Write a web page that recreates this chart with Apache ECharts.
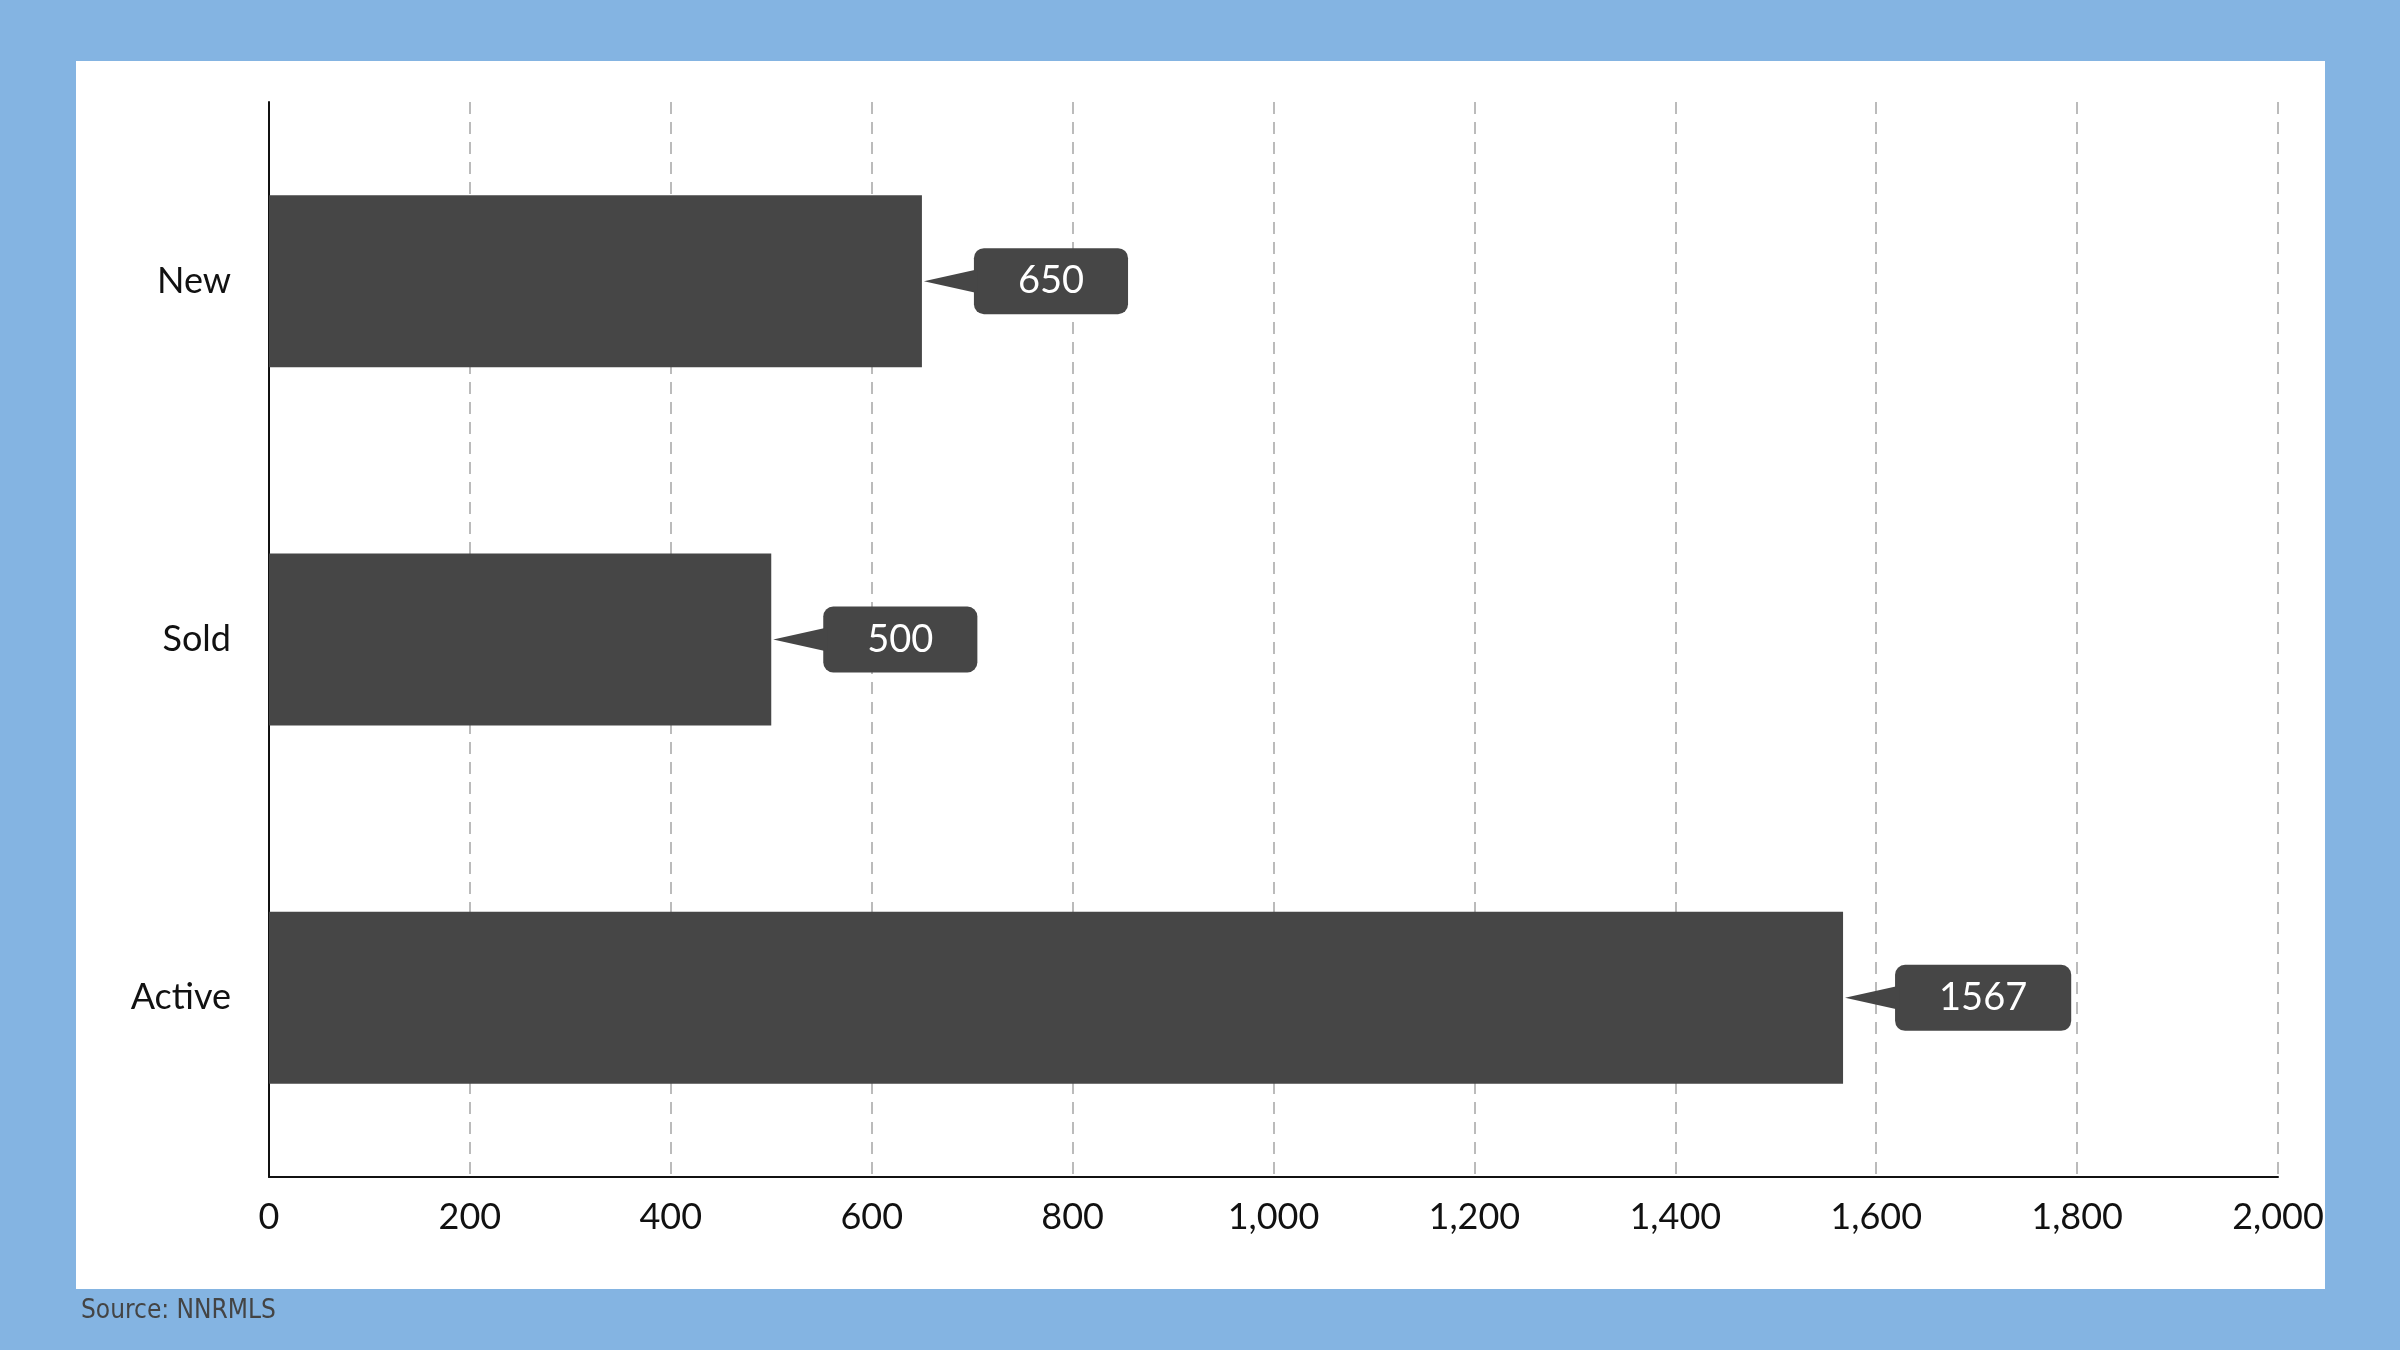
<!DOCTYPE html><html><head><meta charset="utf-8">
<script src="https://cdn.jsdelivr.net/npm/echarts@6/dist/echarts.min.js"></script>
<style>html,body{margin:0;padding:0;background:#84b4e2}#c{width:2400px;height:1350px}</style>
</head><body><div id="c"></div><script>
const categories = ['New','Sold','Active'];
const values = [650, 500, 1567];
const xTicks = [0,200,400,600,800,1000,1200,1400,1600,1800,2000];
const source = 'Source: NNRMLS';
const chart = echarts.init(document.getElementById('c'));
const BOX_GAP = 52;
chart.setOption({
  backgroundColor: '#84b4e2',
  graphic: [
    {type:'rect', z:-10, shape:{x:76,y:61,width:2249,height:1228}, style:{fill:'#fff'}},
    {type:'text', left:81, top:1298, style:{text:source, fill:'#444', font:'26px "Liberation Sans Narrow", "DejaVu Sans Condensed", sans-serif'}}
  ],
  grid: {left:269, right:122, top:102, bottom:173},
  xAxis: {type:'value', min:0, max:2000, interval:200,
    axisLine:{show:true, lineStyle:{color:'#111', width:2}}, axisTick:{show:false},
    axisLabel:{color:'#111', fontSize:36, fontFamily:'Lato', margin:22},
    splitLine:{show:true, lineStyle:{color:'#bbb', width:2, type:[12,8]}}},
  yAxis: {type:'category', data:categories, inverse:true,
    axisLine:{show:true, lineStyle:{color:'#111', width:2}}, axisTick:{show:false},
    axisLabel:{color:'#111', fontSize:36, fontFamily:'Lato', margin:38}},
  series: [
    {type:'bar', data:values, barWidth:'48%', itemStyle:{color:'#464646'},
     label:{show:true, position:'right', distance:BOX_GAP, color:'#fff', fontSize:38, fontFamily:'Lato',
       backgroundColor:'#464646', borderRadius:10, padding:[14,44,14,44]}},
    {type:'custom', data:values.map((v,i)=>[v,i]), z:3,
     renderItem:(params, api)=>{
       const p = api.coord([api.value(0), api.value(1)]);
       return {type:'polygon', shape:{points:[[p[0]+2,p[1]],[p[0]+BOX_GAP+4,p[1]-12],[p[0]+BOX_GAP+4,p[1]+12]]}, style:{fill:'#464646'}};
     }}
  ]
});
</script></body></html>
